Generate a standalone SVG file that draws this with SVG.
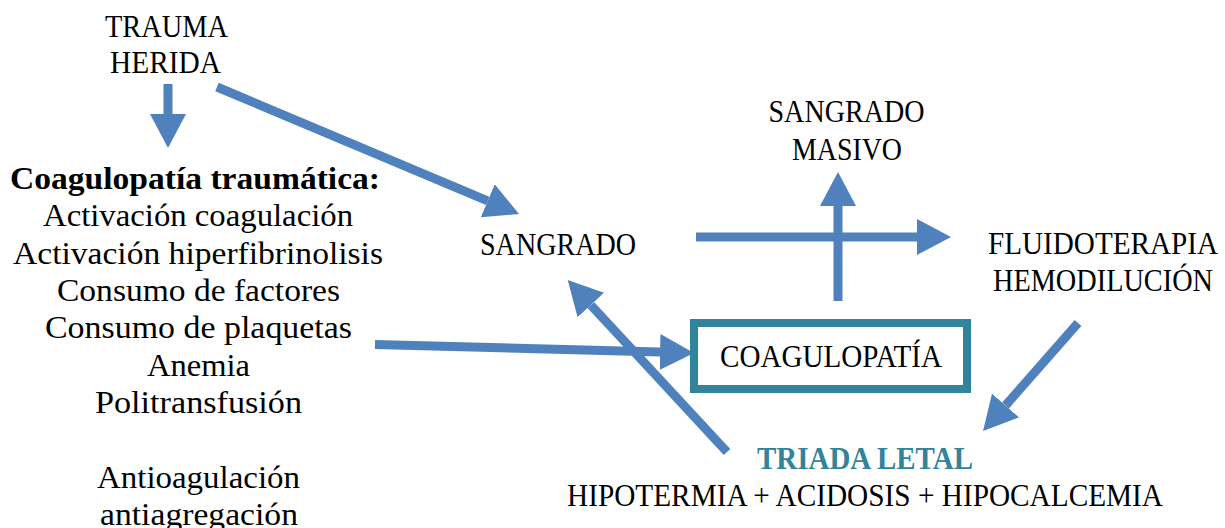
<svg xmlns="http://www.w3.org/2000/svg" width="1225" height="528" viewBox="0 0 1225 528">
  <style>
    .t { font-family: "Liberation Serif", "Times New Roman", serif; font-size: 32px; fill: #000; text-anchor: middle; }
    .b { font-weight: bold; }
    .teal { fill: #31849B; }
    .arrow { stroke: #4F81BD; stroke-width: 9; fill: none; stroke-linecap: butt; marker-end: url(#head); }
    .box { fill: #fff; stroke: #31849B; stroke-width: 8; }
  </style>
  <defs>
    <!-- solid triangular head placed beyond the end of each shaft -->
    <marker id="head" viewBox="0 0 34 36" markerWidth="34" markerHeight="36" refX="0" refY="18" orient="auto" markerUnits="userSpaceOnUse">
      <path d="M0,0 L34,18 L0,36 Z" fill="#4F81BD"/>
    </marker>
  </defs>
  <rect width="1225" height="528" fill="#fff"/>

  <g id="connectors">
    <!-- trauma -> coagulopatía traumática -->
    <line class="arrow" x1="168" y1="84" x2="168" y2="114"/>
    <!-- trauma -> sangrado -->
    <line class="arrow" x1="217" y1="87" x2="487.7" y2="200.8"/>
    <!-- sangrado -> fluidoterapia -->
    <line class="arrow" x1="696" y1="237" x2="917" y2="237"/>
    <!-- coagulopatía -> sangrado masivo -->
    <line class="arrow" x1="838" y1="301" x2="838" y2="206"/>
    <!-- coagulopatía traumática -> coagulopatía -->
    <line class="arrow" x1="375" y1="344.5" x2="660" y2="352.1"/>
    <!-- triada letal -> sangrado -->
    <line class="arrow" x1="727" y1="452" x2="590.8" y2="305"/>
    <!-- hemodilución -> triada letal -->
    <line class="arrow" x1="1078" y1="323" x2="1005.5" y2="405.5"/>
  </g>

  <g id="trauma">
    <text class="t" x="166.5" y="36.7" textLength="123" lengthAdjust="spacingAndGlyphs">TRAUMA</text>
    <text class="t" x="165.5" y="72.7" textLength="111" lengthAdjust="spacingAndGlyphs">HERIDA</text>
  </g>

  <g id="coagulopatia-traumatica">
    <text class="t b" x="195" y="189" textLength="370" lengthAdjust="spacingAndGlyphs">Coagulopatía traumática:</text>
    <text class="t" x="198" y="226" textLength="310" lengthAdjust="spacingAndGlyphs">Activación coagulación</text>
    <text class="t" x="198" y="263.5" textLength="370" lengthAdjust="spacingAndGlyphs">Activación hiperfibrinolisis</text>
    <text class="t" x="198.5" y="301" textLength="283" lengthAdjust="spacingAndGlyphs">Consumo de factores</text>
    <text class="t" x="198.5" y="338" textLength="307" lengthAdjust="spacingAndGlyphs">Consumo de plaquetas</text>
    <text class="t" x="198.5" y="376" textLength="103" lengthAdjust="spacingAndGlyphs">Anemia</text>
    <text class="t" x="198.5" y="413" textLength="207" lengthAdjust="spacingAndGlyphs">Politransfusión</text>
    <text class="t" x="198.5" y="487.5" textLength="203" lengthAdjust="spacingAndGlyphs">Antioagulación</text>
    <text class="t" x="199" y="525" textLength="198" lengthAdjust="spacingAndGlyphs">antiagregación</text>
  </g>

  <g id="sangrado">
    <text class="t" x="558" y="255" textLength="156" lengthAdjust="spacingAndGlyphs">SANGRADO</text>
  </g>

  <g id="sangrado-masivo">
    <text class="t" x="846.5" y="122" textLength="156" lengthAdjust="spacingAndGlyphs">SANGRADO</text>
    <text class="t" x="847" y="160" textLength="110" lengthAdjust="spacingAndGlyphs">MASIVO</text>
  </g>

  <g id="fluidoterapia">
    <text class="t" x="1103" y="254" textLength="230" lengthAdjust="spacingAndGlyphs">FLUIDOTERAPIA</text>
    <text class="t" x="1103" y="290.7" textLength="220" lengthAdjust="spacingAndGlyphs">HEMODILUCIÓN</text>
  </g>

  <g id="coagulopatia">
    <rect class="box" x="694" y="323" width="273" height="66"/>
    <text class="t" x="831" y="367" textLength="222" lengthAdjust="spacingAndGlyphs">COAGULOPATÍA</text>
  </g>

  <g id="triada-letal">
    <text class="t b teal" x="865" y="469" textLength="216" lengthAdjust="spacingAndGlyphs">TRIADA LETAL</text>
    <text class="t" x="865" y="506" textLength="596" lengthAdjust="spacingAndGlyphs">HIPOTERMIA + ACIDOSIS + HIPOCALCEMIA</text>
  </g>
</svg>
